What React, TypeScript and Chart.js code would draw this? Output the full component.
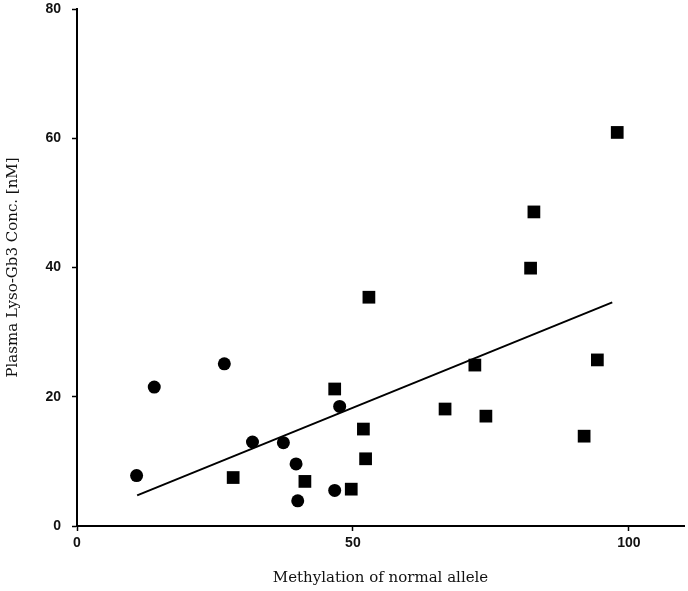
import React, { useEffect, useRef } from "react";
import { Chart, registerables } from "chart.js";

Chart.register(...registerables);

const circleX = [10.8, 14.0, 26.7, 31.8, 37.4, 39.7, 40.0, 46.7, 47.6];
const circleY = [7.8, 21.5, 25.1, 13.0, 12.9, 9.6, 3.9, 5.5, 18.5];

const squareX = [28.3, 41.3, 46.7, 49.7, 51.9, 52.3, 52.9, 66.7, 72.1, 74.1, 82.2, 82.8, 91.9, 94.3, 97.9];
const squareY = [7.5, 6.9, 21.2, 5.7, 15.0, 10.4, 35.4, 18.1, 24.9, 17.0, 39.9, 48.6, 13.9, 25.7, 60.9];

const trendX = [10.9, 97.0];
const trendY = [4.75, 34.6];

const xTicks = [0, 50, 100];
const yTicks = [0, 20, 40, 60, 80];

const xTitle = "Methylation of normal allele";
const yTitle = "Plasma Lyso-Gb3 Conc. [nM]";

const toPoints = (xs: number[], ys: number[]) => xs.map((x, i) => ({ x, y: ys[i] }));

const CANVAS_W = 693;

export default function App() {
  const ref = useRef<HTMLCanvasElement | null>(null);

  useEffect(() => {
    if (!ref.current) return;
    const tickFont = { family: "'Liberation Sans', Arial, sans-serif", size: 14, weight: "bold" as const };
    const titleFont = { family: "'DejaVu Serif', serif", size: 15 };
    const chart = new Chart(ref.current, {
      type: "scatter",
      data: {
        datasets: [
          {
            label: "circles",
            data: toPoints(circleX, circleY),
            pointStyle: "circle",
            pointRadius: 6.5,
            backgroundColor: "#000",
            borderColor: "#000",
            borderWidth: 0,
          },
          {
            label: "squares",
            data: toPoints(squareX, squareY),
            pointStyle: "rect",
            pointRadius: 9,
            backgroundColor: "#000",
            borderColor: "#000",
            borderWidth: 0,
          },
          {
            label: "trend",
            data: toPoints(trendX, trendY),
            showLine: true,
            pointRadius: 0,
            borderColor: "#000",
            borderWidth: 2,
            backgroundColor: "#000",
          } as any,
        ],
      },
      options: {
        responsive: false,
        animation: false,
        layout: { padding: { top: 9, right: 0, left: 0, bottom: 0 } },
        plugins: { legend: { display: false }, tooltip: { enabled: false } },
        scales: {
          x: {
            type: "linear",
            min: 0,
            max: 110,
            afterBuildTicks: (s: any) => {
              s.ticks = xTicks.map((v) => ({ value: v }));
            },
            afterFit: (s: any) => {
              s.height = 65;
              s.paddingLeft = 0;
              s.paddingRight = 0;
            },
            grid: { drawOnChartArea: false, drawTicks: true, tickLength: 5, color: "#000", tickWidth: 1.5 },
            border: { display: true, color: "#000", width: 2 },
            ticks: { font: tickFont, color: "#111", padding: 4, maxRotation: 0 },
            title: { display: true, text: xTitle, font: titleFont, color: "#111", padding: { top: 0, bottom: 4 } },
          },
          y: {
            type: "linear",
            min: 0,
            max: 80,
            afterBuildTicks: (s: any) => {
              s.ticks = yTicks.map((v) => ({ value: v }));
            },
            afterFit: (s: any) => {
              s.width = 77;
              s.paddingTop = 0;
              s.paddingBottom = 0;
            },
            grid: { drawOnChartArea: false, drawTicks: true, tickLength: 5, color: "#000", tickWidth: 1.5 },
            border: { display: true, color: "#000", width: 2 },
            ticks: { font: tickFont, color: "#111", padding: 11 },
            title: { display: true, text: yTitle, font: titleFont, color: "#111", padding: { top: 4, bottom: 0 } },
          },
        },
      },
    });
    return () => chart.destroy();
  }, []);

  return (
    <div style={{ position: "fixed", left: 0, top: 0, width: 688, height: 591, background: "#fff", overflow: "hidden" }}>
      <canvas ref={ref} width={CANVAS_W} height={591} style={{ width: CANVAS_W, height: 591, display: "block" }} />
    </div>
  );
}
